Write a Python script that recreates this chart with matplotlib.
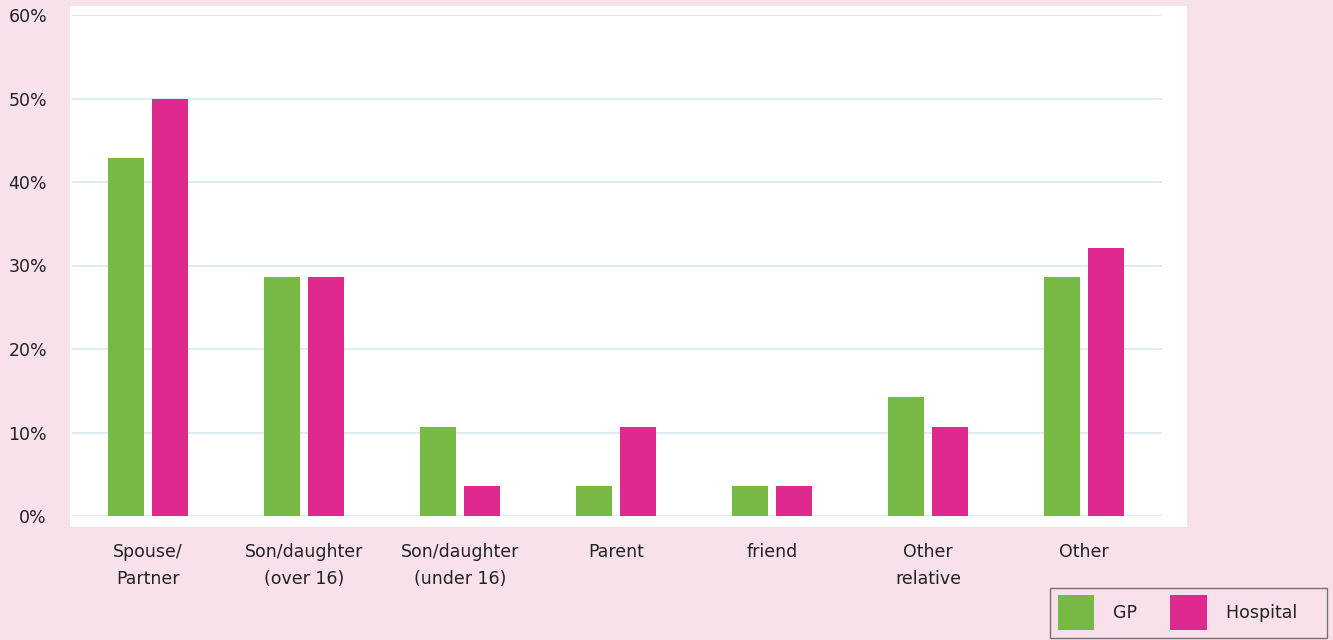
import numpy as np
import matplotlib.pyplot as plt
from matplotlib.patches import Rectangle, Patch

# Data
categories = ['Spouse/\nPartner', 'Son/daughter\n(over 16)', 'Son/daughter\n(under 16)',
              'Parent', 'friend', 'Other\nrelative', 'Other']
gp = [42.9, 28.6, 10.7, 3.6, 3.6, 14.3, 28.6]
hospital = [50.0, 28.6, 3.6, 10.7, 3.6, 10.7, 32.1]
yticks = [0, 10, 20, 30, 40, 50, 60]

bg = '#f8e1ea'
green = '#76b944'
pink = '#de2a8f'

fig = plt.figure(figsize=(13.33, 6.4), dpi=100, facecolor=bg)

# white plotting panel behind the axes
fig.patches.append(Rectangle((70 / 1333, 1 - 527 / 640), (1187 - 70) / 1333, (527 - 6) / 640,
                             transform=fig.transFigure, facecolor='white',
                             edgecolor='none', zorder=-1))

ax = fig.add_axes([72 / 1333, 124 / 640, (1162 - 72) / 1333, (516 - 15) / 640])
ax.set_zorder(2)
ax.patch.set_alpha(0)

x = np.arange(len(categories))
w = 0.23
ax.bar(x - 0.142, gp, width=w, color=green, zorder=3)
ax.bar(x + 0.142, hospital, width=w, color=pink, zorder=3)

ax.set_xlim(-0.487, 6.5)
ax.set_ylim(0, 60)
ax.set_yticks(yticks)
ax.set_yticklabels([f'{v}%' for v in yticks])
ax.yaxis.grid(True, color='#d6e8f2', linewidth=1.2, zorder=1)
ax.set_xticks(x)
ax.set_xticklabels(categories, linespacing=1.65)

for s in ax.spines.values():
    s.set_visible(False)
ax.tick_params(axis='both', length=0, labelsize=12.5, colors='#222222')
ax.tick_params(axis='y', pad=18)
ax.tick_params(axis='x', pad=19.5)

handles = [Patch(facecolor=green, edgecolor='none', label='GP'),
           Patch(facecolor=pink, edgecolor='none', label='Hospital    ')]
leg = fig.legend(handles=handles, loc='lower left', bbox_to_anchor=(1050 / 1333, 2 / 640),
                 ncol=2, fontsize=12.5, frameon=True, fancybox=False,
                 handlelength=2.1, handleheight=2.7, handletextpad=1.1,
                 columnspacing=1.9, borderpad=0.45, borderaxespad=0)
leg.get_frame().set_edgecolor('#555555')
leg.get_frame().set_facecolor(bg)
leg.get_frame().set_linewidth(1.0)
for t in leg.get_texts():
    t.set_color('#222222')

fig.savefig('out.png', dpi=100, facecolor=bg)
